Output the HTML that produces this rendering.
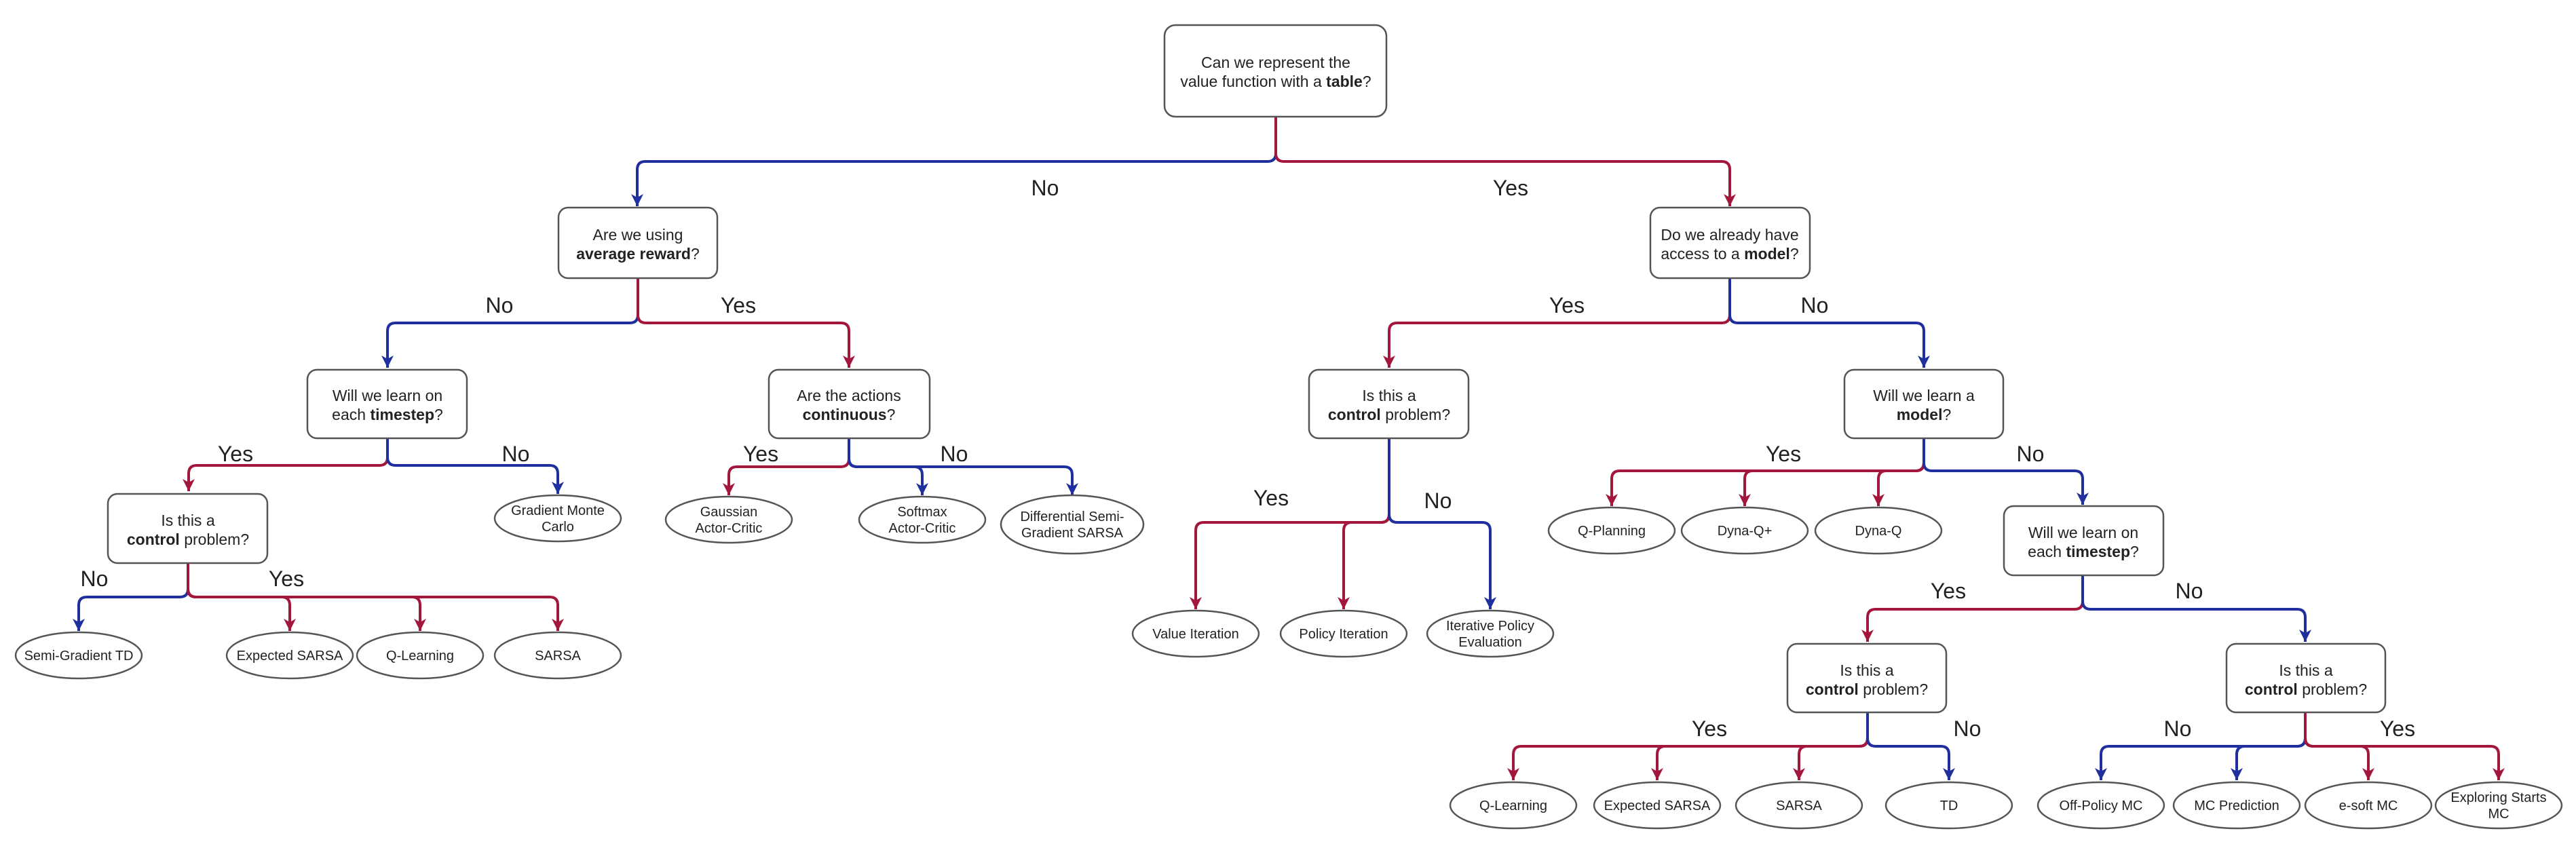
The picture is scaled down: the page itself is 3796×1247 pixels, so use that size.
<!DOCTYPE html>
<html><head><meta charset="utf-8"><style>
html,body{margin:0;padding:0;background:#fff}
svg{display:block}
text{font-family:"Liberation Sans",sans-serif;fill:#222}
.b{font-size:23px;text-anchor:middle}
.e{font-size:20px;text-anchor:middle}
.l{font-size:32px;text-anchor:middle}
.bx{fill:#fff;stroke:#555;stroke-width:2.5}
.el{fill:#fff;stroke:#555;stroke-width:2.5}
.r{fill:none;stroke:#a3173d;stroke-width:4;marker-end:url(#mr)}
.u{fill:none;stroke:#1f2f9e;stroke-width:4;marker-end:url(#mb)}
</style></head><body>
<svg width="3796" height="1247" viewBox="0 0 3796 1247" xmlns="http://www.w3.org/2000/svg">
<defs>
<marker id="mr" markerUnits="userSpaceOnUse" markerWidth="20" markerHeight="22" refX="10" refY="20" orient="0" viewBox="0 0 20 22"><path d="M1 2 L10 20 L19 2 L10 7 Z" fill="#a3173d"/></marker>
<marker id="mb" markerUnits="userSpaceOnUse" markerWidth="20" markerHeight="22" refX="10" refY="20" orient="0" viewBox="0 0 20 22"><path d="M1 2 L10 20 L19 2 L10 7 Z" fill="#1f2f9e"/></marker>
</defs>

<!-- edges -->
<path class="u" d="M1880 172 V226 Q1880 238 1868 238 H951 Q939 238 939 250 V304"/>
<path class="r" d="M1880 172 V226 Q1880 238 1892 238 H2537 Q2549 238 2549 250 V304"/>

<path class="u" d="M940 410 V464 Q940 476 928 476 H583 Q571 476 571 488 V542"/>
<path class="r" d="M940 410 V464 Q940 476 952 476 H1239 Q1251 476 1251 488 V542"/>

<path class="r" d="M2549 410 V464 Q2549 476 2537 476 H2059 Q2047 476 2047 488 V542"/>
<path class="u" d="M2549 410 V464 Q2549 476 2561 476 H2823 Q2835 476 2835 488 V542"/>

<path class="r" d="M571 646 V674 Q571 686 559 686 H290 Q278 686 278 698 V724"/>
<path class="u" d="M571 646 V674 Q571 686 583 686 H810 Q822 686 822 698 V728"/>

<path class="r" d="M1251 646 V676 Q1251 688 1239 688 H1086 Q1074 688 1074 700 V730"/>
<path class="u" d="M1251 646 V676 Q1251 688 1263 688 H1347 Q1359 688 1359 700 V730"/>
<path class="u" d="M1251 646 V676 Q1251 688 1263 688 H1568 Q1580 688 1580 700 V730"/>

<path class="u" d="M277 830 V868 Q277 880 265 880 H128 Q116 880 116 892 V930"/>
<path class="r" d="M277 830 V868 Q277 880 289 880 H415 Q427 880 427 892 V930"/>
<path class="r" d="M277 830 V868 Q277 880 289 880 H607 Q619 880 619 892 V930"/>
<path class="r" d="M277 830 V868 Q277 880 289 880 H810 Q822 880 822 892 V930"/>

<path class="r" d="M2047 646 V758 Q2047 770 2035 770 H1774 Q1762 770 1762 782 V898"/>
<path class="r" d="M2047 646 V758 Q2047 770 2035 770 H1992 Q1980 770 1980 782 V898"/>
<path class="u" d="M2047 646 V758 Q2047 770 2059 770 H2184 Q2196 770 2196 782 V898"/>

<path class="r" d="M2835 646 V682 Q2835 694 2823 694 H2387 Q2375 694 2375 706 V746"/>
<path class="r" d="M2835 646 V682 Q2835 694 2823 694 H2583 Q2571 694 2571 706 V746"/>
<path class="r" d="M2835 646 V682 Q2835 694 2823 694 H2780 Q2768 694 2768 706 V746"/>
<path class="u" d="M2835 646 V682 Q2835 694 2847 694 H3057 Q3069 694 3069 706 V744"/>

<path class="r" d="M3069 848 V886 Q3069 898 3057 898 H2764 Q2752 898 2752 910 V946"/>
<path class="u" d="M3069 848 V886 Q3069 898 3081 898 H3385 Q3397 898 3397 910 V946"/>

<path class="r" d="M2752 1050 V1088 Q2752 1100 2740 1100 H2242 Q2230 1100 2230 1112 V1150"/>
<path class="r" d="M2752 1050 V1088 Q2752 1100 2740 1100 H2454 Q2442 1100 2442 1112 V1150"/>
<path class="r" d="M2752 1050 V1088 Q2752 1100 2740 1100 H2663 Q2651 1100 2651 1112 V1150"/>
<path class="u" d="M2752 1050 V1088 Q2752 1100 2764 1100 H2860 Q2872 1100 2872 1112 V1150"/>

<path class="u" d="M3397 1050 V1088 Q3397 1100 3385 1100 H3108 Q3096 1100 3096 1112 V1150"/>
<path class="u" d="M3397 1050 V1088 Q3397 1100 3385 1100 H3308 Q3296 1100 3296 1112 V1150"/>
<path class="r" d="M3397 1050 V1088 Q3397 1100 3409 1100 H3478 Q3490 1100 3490 1112 V1150"/>
<path class="r" d="M3397 1050 V1088 Q3397 1100 3409 1100 H3670 Q3682 1100 3682 1112 V1150"/>

<!-- edge labels -->
<text class="l" x="1540" y="288">No</text>
<text class="l" x="2226" y="288">Yes</text>
<text class="l" x="736" y="461">No</text>
<text class="l" x="1088" y="461">Yes</text>
<text class="l" x="2309" y="461">Yes</text>
<text class="l" x="2674" y="461">No</text>
<text class="l" x="347" y="680">Yes</text>
<text class="l" x="760" y="680">No</text>
<text class="l" x="1121" y="680">Yes</text>
<text class="l" x="1406" y="680">No</text>
<text class="l" x="139" y="864">No</text>
<text class="l" x="422" y="864">Yes</text>
<text class="l" x="1873" y="745">Yes</text>
<text class="l" x="2119" y="749">No</text>
<text class="l" x="2628" y="680">Yes</text>
<text class="l" x="2992" y="680">No</text>
<text class="l" x="2871" y="882">Yes</text>
<text class="l" x="3226" y="882">No</text>
<text class="l" x="2519" y="1085">Yes</text>
<text class="l" x="2899" y="1085">No</text>
<text class="l" x="3209" y="1085">No</text>
<text class="l" x="3533" y="1085">Yes</text>

<!-- boxes -->
<rect class="bx" x="1716" y="37" width="327" height="135" rx="16"/>
<text class="b" x="1880" y="100">Can we represent the</text>
<text class="b" x="1880" y="128">value function with a <tspan font-weight="bold">table</tspan>?</text>

<rect class="bx" x="823" y="306" width="234" height="104" rx="14"/>
<text class="b" x="940" y="354">Are we using</text>
<text class="b" x="940" y="382"><tspan font-weight="bold">average reward</tspan>?</text>

<rect class="bx" x="2432" y="306" width="235" height="104" rx="14"/>
<text class="b" x="2549" y="354">Do we already have</text>
<text class="b" x="2549" y="382">access to a <tspan font-weight="bold">model</tspan>?</text>

<rect class="bx" x="453" y="545" width="235" height="101" rx="14"/>
<text class="b" x="571" y="591">Will we learn on</text>
<text class="b" x="571" y="619">each <tspan font-weight="bold">timestep</tspan>?</text>

<rect class="bx" x="1133" y="545" width="237" height="101" rx="14"/>
<text class="b" x="1251" y="591">Are the actions</text>
<text class="b" x="1251" y="619"><tspan font-weight="bold">continuous</tspan>?</text>

<rect class="bx" x="159" y="728" width="235" height="102" rx="14"/>
<text class="b" x="277" y="775">Is this a</text>
<text class="b" x="277" y="803"><tspan font-weight="bold">control</tspan> problem?</text>

<rect class="bx" x="1929" y="545" width="235" height="101" rx="14"/>
<text class="b" x="2047" y="591">Is this a</text>
<text class="b" x="2047" y="619"><tspan font-weight="bold">control</tspan> problem?</text>

<rect class="bx" x="2718" y="545" width="234" height="101" rx="14"/>
<text class="b" x="2835" y="591">Will we learn a</text>
<text class="b" x="2835" y="619"><tspan font-weight="bold">model</tspan>?</text>

<rect class="bx" x="2953" y="746" width="235" height="102" rx="14"/>
<text class="b" x="3070" y="793">Will we learn on</text>
<text class="b" x="3070" y="821">each <tspan font-weight="bold">timestep</tspan>?</text>

<rect class="bx" x="2634" y="949" width="234" height="101" rx="14"/>
<text class="b" x="2751" y="996">Is this a</text>
<text class="b" x="2751" y="1024"><tspan font-weight="bold">control</tspan> problem?</text>

<rect class="bx" x="3281" y="949" width="234" height="101" rx="14"/>
<text class="b" x="3398" y="996">Is this a</text>
<text class="b" x="3398" y="1024"><tspan font-weight="bold">control</tspan> problem?</text>

<!-- ellipses -->
<ellipse class="el" cx="822" cy="764" rx="93" ry="34"/>
<text class="e" x="822" y="759">Gradient Monte</text><text class="e" x="822" y="783">Carlo</text>
<ellipse class="el" cx="1074" cy="766" rx="93" ry="34"/>
<text class="e" x="1074" y="761">Gaussian</text><text class="e" x="1074" y="785">Actor-Critic</text>
<ellipse class="el" cx="1359" cy="766" rx="93" ry="34"/>
<text class="e" x="1359" y="761">Softmax</text><text class="e" x="1359" y="785">Actor-Critic</text>
<ellipse class="el" cx="1580" cy="773" rx="105" ry="43"/>
<text class="e" x="1580" y="768">Differential Semi-</text><text class="e" x="1580" y="792">Gradient SARSA</text>

<ellipse class="el" cx="116" cy="966" rx="93" ry="34"/><text class="e" x="116" y="973">Semi-Gradient TD</text>
<ellipse class="el" cx="427" cy="966" rx="93" ry="34"/><text class="e" x="427" y="973">Expected SARSA</text>
<ellipse class="el" cx="619" cy="966" rx="93" ry="34"/><text class="e" x="619" y="973">Q-Learning</text>
<ellipse class="el" cx="822" cy="966" rx="93" ry="34"/><text class="e" x="822" y="973">SARSA</text>

<ellipse class="el" cx="1762" cy="934" rx="93" ry="34"/><text class="e" x="1762" y="941">Value Iteration</text>
<ellipse class="el" cx="1980" cy="934" rx="93" ry="34"/><text class="e" x="1980" y="941">Policy Iteration</text>
<ellipse class="el" cx="2196" cy="934" rx="93" ry="34"/>
<text class="e" x="2196" y="929">Iterative Policy</text><text class="e" x="2196" y="953">Evaluation</text>

<ellipse class="el" cx="2375" cy="782" rx="93" ry="34"/><text class="e" x="2375" y="789">Q-Planning</text>
<ellipse class="el" cx="2571" cy="782" rx="93" ry="34"/><text class="e" x="2571" y="789">Dyna-Q+</text>
<ellipse class="el" cx="2768" cy="782" rx="93" ry="34"/><text class="e" x="2768" y="789">Dyna-Q</text>

<ellipse class="el" cx="2230" cy="1187" rx="93" ry="34"/><text class="e" x="2230" y="1194">Q-Learning</text>
<ellipse class="el" cx="2442" cy="1187" rx="93" ry="34"/><text class="e" x="2442" y="1194">Expected SARSA</text>
<ellipse class="el" cx="2651" cy="1187" rx="93" ry="34"/><text class="e" x="2651" y="1194">SARSA</text>
<ellipse class="el" cx="2872" cy="1187" rx="93" ry="34"/><text class="e" x="2872" y="1194">TD</text>

<ellipse class="el" cx="3096" cy="1187" rx="93" ry="34"/><text class="e" x="3096" y="1194">Off-Policy MC</text>
<ellipse class="el" cx="3296" cy="1187" rx="93" ry="34"/><text class="e" x="3296" y="1194">MC Prediction</text>
<ellipse class="el" cx="3490" cy="1187" rx="93" ry="34"/><text class="e" x="3490" y="1194">e-soft MC</text>
<ellipse class="el" cx="3682" cy="1187" rx="93" ry="34"/>
<text class="e" x="3682" y="1182">Exploring Starts</text><text class="e" x="3682" y="1206">MC</text>
</svg>
</body></html>
